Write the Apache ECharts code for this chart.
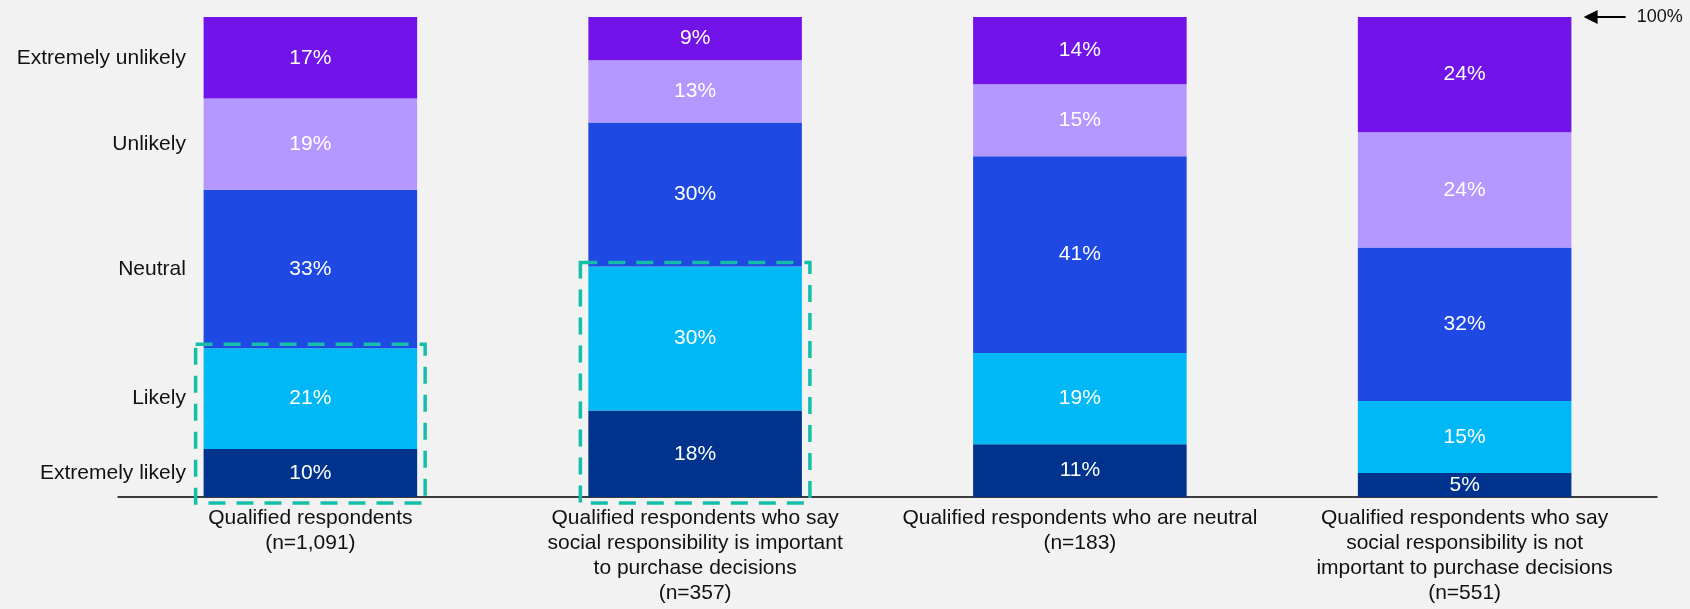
<!DOCTYPE html>
<html>
<head>
<meta charset="utf-8">
<script src="https://cdn.jsdelivr.net/npm/echarts@6/dist/echarts.min.js"></script>
<style>
  html, body { margin: 0; padding: 0; background: #f2f2f2; }
  #chart { width: 1690px; height: 609px; }
</style>
</head>
<body>
<div id="chart"></div>
<script>
const categories = [
  'Qualified respondents\n(n=1,091)',
  'Qualified respondents who say\nsocial responsibility is important\nto purchase decisions\n(n=357)',
  'Qualified respondents who are neutral\n(n=183)',
  'Qualified respondents who say\nsocial responsibility is not\nimportant to purchase decisions\n(n=551)'
]

// stacked bottom to top
const levels = ['Extremely likely', 'Likely', 'Neutral', 'Unlikely', 'Extremely unlikely']
const extremelyLikely = [10, 18, 11, 5]
const likely = [21, 30, 19, 15]
const neutral = [33, 30, 41, 32]
const unlikely = [19, 13, 15, 24]
const extremelyUnlikely = [17, 9, 14, 24]

// columns boxed by the dashed outline (the "likely" share)
const highlighted = [0, 1]

const colors = ['#00338D', '#00B8F5', '#1E49E2', '#B497FF', '#7213EA']
const values = [extremelyLikely, likely, neutral, unlikely, extremelyUnlikely]
const FONT = "'Liberation Sans', Arial, sans-serif"
const BAR_RATIO = 0.555

const chart = echarts.init(document.getElementById('chart'))

// midpoint of each segment in the first column, used for the left-hand labels
let acc = 0
const firstMids = values.map(v => { const m = acc + v[0] / 2; acc += v[0]; return m })

const sideLabel = name => ({
  show: true,
  position: 'left',
  distance: 124,
  color: '#111',
  fontFamily: FONT,
  fontSize: 21,
  formatter: name
})

const barSeries = levels.map((name, i) => ({
  name,
  type: 'bar',
  stack: 'total',
  barWidth: (BAR_RATIO * 100) + '%',
  data: values[i],
  itemStyle: { color: colors[i] },
  label: {
    show: true,
    color: '#fff',
    fontFamily: FONT,
    fontSize: 21,
    formatter: '{c}%'
  },
  markPoint: {
    symbol: 'circle',
    symbolSize: 1,
    itemStyle: { color: 'rgba(0,0,0,0)' },
    label: sideLabel(name),
    data: [{ coord: [0, firstMids[i]] }]
  }
}))

// 100% pointer beside the last column
barSeries[4].markPoint.data.push({
  coord: [3, 100],
  symbol: 'path://M0,7 L14,0 L14,6 L42,6 L42,8 L14,8 L14,14 Z',
  symbolSize: [42, 14],
  symbolOffset: [140, 0],
  itemStyle: { color: '#000' },
  label: {
    show: true,
    position: 'right',
    distance: 11,
    color: '#111',
    fontFamily: FONT,
    fontSize: 18,
    formatter: '100%'
  }
})

const boxData = highlighted.map(idx => [idx, extremelyLikely[idx] + likely[idx]])

chart.setOption({
  backgroundColor: '#f2f2f2',
  animation: false,
  grid: { left: 118, right: 33, top: 17, bottom: 112 },
  xAxis: {
    type: 'category',
    data: categories,
    axisLine: { lineStyle: { color: '#000', width: 1.5 } },
    axisTick: { show: false },
    axisLabel: {
      interval: 0,
      margin: 9,
      color: '#111',
      fontFamily: FONT,
      fontSize: 21,
      lineHeight: 25
    }
  },
  yAxis: {
    type: 'value',
    min: 0,
    max: 100,
    show: false
  },
  series: [
    ...barSeries,
    {
      type: 'custom',
      clip: false,
      z: 10,
      data: boxData,
      renderItem(params, api) {
        const top = api.coord([api.value(0), api.value(1)])
        const base = api.coord([api.value(0), 0])
        const band = api.size([1, 0])[0]
        const half = band * BAR_RATIO / 2 + 8
        return {
          type: 'rect',
          shape: { x: top[0] - half, y: top[1] - 4, width: half * 2, height: base[1] - top[1] + 10 },
          style: { fill: 'none', stroke: '#14BFAA', lineWidth: 3.5, lineDash: [17, 11] }
        }
      }
    }
  ]
})
</script>
</body>
</html>
